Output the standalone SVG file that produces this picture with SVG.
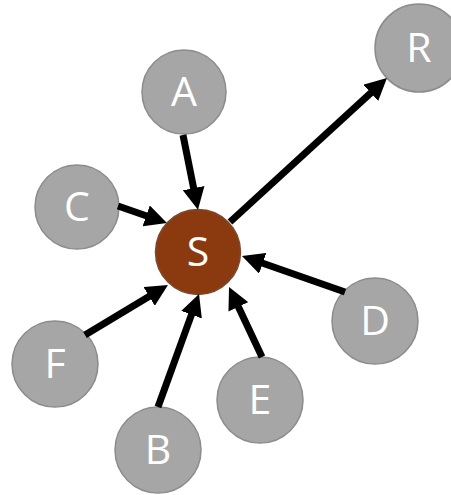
<svg xmlns="http://www.w3.org/2000/svg" width="451" height="495" viewBox="0 0 451 495">
<style>
.node circle{fill:#a6a6a6;stroke:#8c8c8c;stroke-width:1.5}
#S circle{fill:#8b3a0f;stroke:#7a4a30}
.node text{fill:#ffffff;font-family:"Open Sans","Liberation Sans",sans-serif;font-size:41px;text-anchor:middle}
.edge{stroke:#000;stroke-width:7;fill:none;marker-end:url(#ah)}
</style>
<defs>
<marker id="ah" markerUnits="userSpaceOnUse" markerWidth="22" markerHeight="22" refX="12" refY="11" orient="auto">
<path d="M0,0 L22,11 L0,22 z" fill="#000"/>
</marker>
</defs>
<rect width="451" height="495" fill="#fff"/>
<g id="nodes">
<g id="A" class="node"><circle cx="184" cy="92" r="42"/><text x="184" y="106">A</text></g>
<g id="R" class="node"><circle cx="419" cy="48" r="44"/><text x="419" y="62">R</text></g>
<g id="C" class="node"><circle cx="77" cy="207" r="42"/><text x="77" y="221">C</text></g>
<g id="S" class="node"><circle cx="198" cy="252" r="42.5"/><text x="198" y="266">S</text></g>
<g id="D" class="node"><circle cx="375" cy="321" r="43"/><text x="375" y="335">D</text></g>
<g id="F" class="node"><circle cx="55" cy="364" r="43"/><text x="55" y="378">F</text></g>
<g id="E" class="node"><circle cx="260" cy="400" r="43"/><text x="260" y="414">E</text></g>
<g id="B" class="node"><circle cx="158" cy="450" r="43"/><text x="158" y="464">B</text></g>
</g>
<g id="connectors">
<line class="edge" x1="183" y1="135" x2="196" y2="200"/>
<line class="edge" x1="118" y1="206" x2="157.5" y2="219.8"/>
<line class="edge" x1="85" y1="335" x2="159.4" y2="290.2"/>
<line class="edge" x1="158" y1="407" x2="195.6" y2="303.4"/>
<line class="edge" x1="262" y1="357" x2="233.3" y2="296"/>
<line class="edge" x1="345" y1="292" x2="251.4" y2="259.3"/>
<line class="edge" x1="230" y1="222" x2="379.6" y2="84.8"/>
</g>
</svg>
